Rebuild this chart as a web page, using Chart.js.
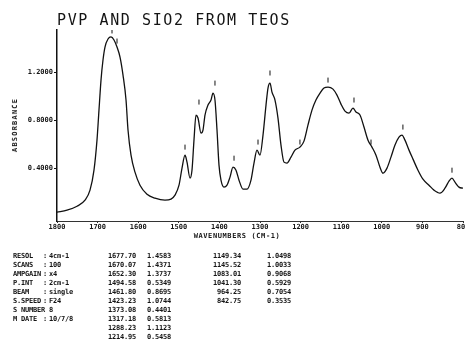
<!DOCTYPE html>
<html>
<head>
<meta charset="utf-8">
<script src="https://cdn.jsdelivr.net/npm/chart.js@4.4.0/dist/chart.umd.min.js"></script>
<style>
  html, body { margin:0; padding:0; background:#fff; overflow:hidden; width:465px; height:349px; }
  #wrap { position:relative; width:465px; height:349px; overflow:hidden; }
  #c { position:absolute; left:0; top:0; }
  .t { position:absolute; font-family:"DejaVu Sans Mono", monospace; color:#141414; white-space:pre; }
  #title { left:57px; top:11px; font-size:15px; letter-spacing:1.6px; line-height:18px; }
  #ytitle { left:14.5px; top:125px; font-size:7px; font-weight:bold; letter-spacing:1.2px; transform:translate(-50%,-50%) rotate(-90deg); }
  #xtitle { left:237px; top:236px; font-size:7px; font-weight:bold; letter-spacing:0.6px; transform:translate(-50%,-50%); }
  .cell { position:absolute; font-family:"DejaVu Sans Mono", monospace; font-size:7px; font-weight:bold; color:#141414; white-space:pre; line-height:9px; letter-spacing:-0.2px; }
</style>
</head>
<body>
<div id="wrap">
  <canvas id="c" width="480" height="245"></canvas>
  <div class="t" id="title">PVP AND SIO2 FROM TEOS</div>
  <div class="t" id="ytitle">ABSORBANCE</div>
  <div class="t" id="xtitle">WAVENUMBERS (CM-1)</div>
  <div id="table"></div>
</div>
<script>
// ---- spectrum (wavenumber cm-1, absorbance) ----
const wavenumbers = [1800,1775.4,1750.7,1731,1718.7,1708.9,1701.5,1696.6,1691.6,1686.7,1681.8,1674.4,1667,1659.6,1652.2,1644.8,1637.4,1630,1625.1,1617.7,1607.9,1595.6,1578.3,1558.6,1534,1519.2,1509.4,1499.5,1492.1,1484.7,1479.8,1472.4,1467.5,1462.6,1457.6,1452.7,1445.3,1440.4,1435.5,1428.1,1420.7,1415.8,1410.9,1405.9,1401,1396.1,1388.7,1381.3,1373.9,1366.5,1359.1,1351.7,1341.9,1332,1322.2,1314.8,1307.4,1300,1292.6,1285.2,1280.3,1275.4,1270.5,1263.1,1255.7,1248.3,1240.9,1233.6,1223.7,1213.9,1201.6,1191.7,1181.9,1172,1162.2,1152.2,1142.5,1132.5,1120.2,1110.4,1100.5,1090.7,1080.8,1071,1063.6,1053.7,1043.9,1034,1024.2,1014.3,1004.5,997.1,987.2,977.4,967.5,957.7,950.3,942.9,933,923.2,910.9,898.6,883.8,871.5,856.7,844.4,834.5,827.1,819.7,809.9,800];
const absorbance = [0.033,0.05,0.083,0.133,0.217,0.383,0.633,0.883,1.133,1.30,1.408,1.475,1.492,1.467,1.408,1.325,1.175,0.967,0.717,0.508,0.367,0.258,0.183,0.15,0.133,0.142,0.175,0.258,0.40,0.508,0.45,0.317,0.383,0.633,0.842,0.817,0.692,0.717,0.842,0.925,0.967,1.025,0.967,0.717,0.425,0.30,0.242,0.258,0.325,0.408,0.383,0.30,0.225,0.225,0.30,0.442,0.55,0.508,0.675,0.925,1.067,1.108,1.033,0.967,0.817,0.592,0.45,0.442,0.492,0.55,0.575,0.625,0.758,0.883,0.967,1.025,1.067,1.075,1.058,1.008,0.933,0.875,0.858,0.90,0.867,0.842,0.742,0.633,0.575,0.508,0.408,0.358,0.40,0.492,0.592,0.658,0.675,0.633,0.55,0.475,0.383,0.308,0.258,0.217,0.192,0.233,0.292,0.317,0.283,0.242,0.233];

// ---- peak marker positions (small ticks drawn above the peaks) ----
const markWn  = [1664.5,1652.2,1484.7,1450.3,1410.9,1364,1304.9,1275.4,1201.6,1132.5,1068.5,1026.6,948,827.1];
const markAbs = [1.542,1.458,0.575,0.95,1.108,0.483,0.617,1.192,0.617,1.133,0.967,0.617,0.742,0.383];

// ---- axis ticks ----
const xTicks = [1800,1700,1600,1500,1400,1300,1200,1100,1000,900,800];
const yTicks = [0.4,0.8,1.2];

// ---- printed parameter / peak table ----
const paramNames  = ["RESOL","SCANS","AMPGAIN","P.INT","BEAM","S.SPEED","S NUMBER","M DATE"];
const paramColons = [":",":",":",":",":",":","",":"];
const paramValues = ["4cm-1","100","x4","2cm-1","single","F24","8","10/7/8"];
const peakWn1  = ["1677.70","1670.07","1652.30","1494.58","1461.80","1423.23","1373.08","1317.18","1288.23","1214.95"];
const peakAbs1 = ["1.4583","1.4371","1.3737","0.5349","0.8695","1.0744","0.4401","0.5813","1.1123","0.5458"];
const peakWn2  = ["1149.34","1145.52","1083.01","1041.30","964.25","842.75"];
const peakAbs2 = ["1.0498","1.0033","0.9068","0.5929","0.7054","0.3535"];

// build table text
(function(){
  const tb = document.getElementById('table');
  const top0 = 252;
  function cell(txt, left, row, align, width){
    const d = document.createElement('div');
    d.className = 'cell';
    d.textContent = txt;
    d.style.top = (top0 + row*9) + 'px';
    if (align === 'right') { d.style.left = (left - width) + 'px'; d.style.width = width + 'px'; d.style.textAlign = 'right'; }
    else d.style.left = left + 'px';
    tb.appendChild(d);
  }
  paramNames.forEach((n,i)=>{ cell(n, 13, i); cell(paramColons[i], 43, i); cell(paramValues[i], 49, i); });
  peakWn1.forEach((v,i)=>{ cell(v, 136, i, 'right', 40); cell(peakAbs1[i], 147, i); });
  peakWn2.forEach((v,i)=>{ cell(v, 241, i, 'right', 40); cell(peakAbs2[i], 267, i); });
})();

const lineData = wavenumbers.map((w,i)=>({x:w, y:absorbance[i]}));
const markData = markWn.map((w,i)=>({x:w, y:markAbs[i]}));
const tickFont = {family:"DejaVu Sans Mono", size:7, weight:'bold'};

new Chart(document.getElementById('c'), {
  type:'line',
  data:{ datasets:[
    { data:lineData, borderColor:'#111', borderWidth:1.3, pointRadius:0, fill:false, cubicInterpolationMode:'monotone' },
    { data:markData, showLine:false, pointStyle:'line', rotation:90, pointRadius:2.5, borderColor:'#111', borderWidth:1, backgroundColor:'#111' }
  ]},
  options:{
    responsive:false, animation:false, devicePixelRatio:1,
    layout:{ padding:{ top:30, right:17, left:0, bottom:0 } },
    plugins:{ legend:{display:false}, tooltip:{enabled:false}, title:{display:false} },
    scales:{
      x:{ type:'linear', reverse:true, min:800, max:1800,
          afterBuildTicks: s => { s.ticks = xTicks.map(v=>({value:v})); },
          afterFit: s => { s.height = 24; },
          ticks:{ autoSkip:false, maxRotation:0, minRotation:0, padding:0, color:'#141414', font:tickFont, callback: v => String(v) },
          grid:{ drawOnChartArea:false, drawTicks:true, tickLength:2, color:'#333', lineWidth:1 },
          border:{ display:true, color:'#333', width:1 } },
      y:{ type:'linear', min:-0.04, max:1.55,
          afterBuildTicks: s => { s.ticks = yTicks.map(v=>({value:v})); },
          afterFit: s => { s.width = 57; },
          ticks:{ padding:1, color:'#141414', font:tickFont, callback: v => Number(v).toFixed(4) },
          grid:{ drawOnChartArea:false, drawTicks:true, tickLength:3, color:'#111', lineWidth:1 },
          border:{ display:true, color:'#111', width:1.5 } }
    }
  }
});
</script>
</body>
</html>
